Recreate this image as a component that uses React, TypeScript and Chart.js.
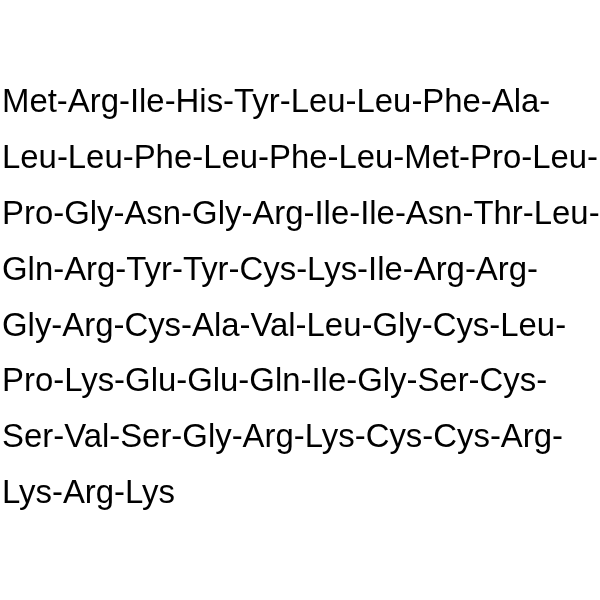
import { Chart, registerables } from 'chart.js';
import { useEffect, useRef } from 'react';

Chart.register(...registerables);

// one array per printed line of the peptide sequence
const line1 = ['Met', 'Arg', 'Ile', 'His', 'Tyr', 'Leu', 'Leu', 'Phe', 'Ala'];
const line2 = ['Leu', 'Leu', 'Phe', 'Leu', 'Phe', 'Leu', 'Met', 'Pro', 'Leu'];
const line3 = ['Pro', 'Gly', 'Asn', 'Gly', 'Arg', 'Ile', 'Ile', 'Asn', 'Thr', 'Leu'];
const line4 = ['Gln', 'Arg', 'Tyr', 'Tyr', 'Cys', 'Lys', 'Ile', 'Arg', 'Arg'];
const line5 = ['Gly', 'Arg', 'Cys', 'Ala', 'Val', 'Leu', 'Gly', 'Cys', 'Leu'];
const line6 = ['Pro', 'Lys', 'Glu', 'Glu', 'Gln', 'Ile', 'Gly', 'Ser', 'Cys'];
const line7 = ['Ser', 'Val', 'Ser', 'Gly', 'Arg', 'Lys', 'Cys', 'Cys', 'Arg'];
const line8 = ['Lys', 'Arg', 'Lys'];

const sequenceLines = [line1, line2, line3, line4, line5, line6, line7, line8];

const textPlugin = {
    id: 'sequenceText',
    afterDraw(chart: Chart) {
        const { ctx, scales } = chart;
        const x = scales.x;
        const y = scales.y;
        ctx.save();
        ctx.fillStyle = '#000';
        ctx.font = '32.9px "Liberation Sans", Arial, sans-serif';
        ctx.textAlign = 'left';
        ctx.textBaseline = 'alphabetic';
        sequenceLines.forEach((residues, i) => {
            const last = i === sequenceLines.length - 1;
            const text = residues.join('-') + (last ? '' : '-');
            ctx.fillText(text, x.getPixelForValue(2), y.getPixelForValue(i));
        });
        ctx.restore();
    }
};

function SequenceChart() {
    const canvasRef = useRef<HTMLCanvasElement>(null);
    const chartRef = useRef<Chart | null>(null);

    useEffect(() => {
        if (!canvasRef.current) return;
        const ctx = canvasRef.current.getContext('2d');
        if (!ctx) return;

        if (chartRef.current) chartRef.current.destroy();

        chartRef.current = new Chart(ctx, {
            type: 'scatter',
            data: {
                datasets: [{
                    data: sequenceLines.map((_, i) => ({ x: 2, y: i })),
                    pointRadius: 0,
                    showLine: false
                }]
            },
            options: {
                animation: false,
                responsive: true,
                maintainAspectRatio: false,
                layout: { padding: 0 },
                scales: {
                    x: { type: 'linear', min: 0, max: 600, display: false },
                    y: { type: 'linear', min: -2.0036, max: 8.73, reverse: true, display: false }
                },
                plugins: {
                    legend: { display: false },
                    tooltip: { enabled: false }
                }
            },
            plugins: [textPlugin]
        });

        return () => {
            if (chartRef.current) {
                chartRef.current.destroy();
                chartRef.current = null;
            }
        };
    }, []);

    return <canvas ref={canvasRef} />;
}

export default function App() {
    return (
        <div style={{ position: 'fixed', left: 0, top: 0, width: 600, height: 600, background: '#fff' }}>
            <SequenceChart />
        </div>
    );
}
